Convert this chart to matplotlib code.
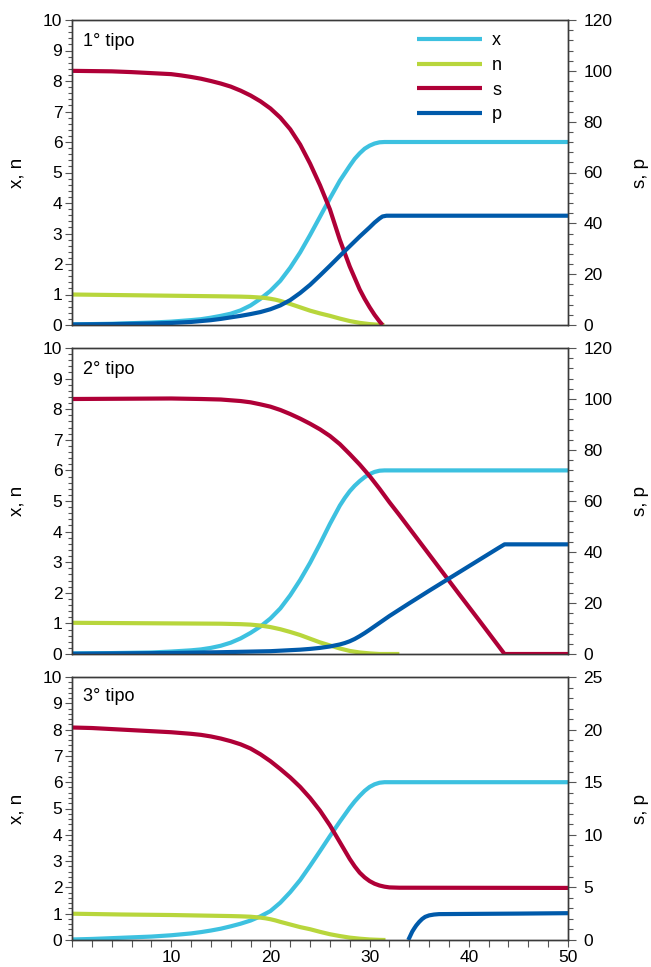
import numpy as np
import matplotlib
matplotlib.use("Agg")
import matplotlib.pyplot as plt
from matplotlib.ticker import MultipleLocator, FixedLocator

plt.rcParams["font.family"] = ["Liberation Sans", "DejaVu Sans"]

# ── colours ──────────────────────────────────────────────────────────────
C_X = "#3DC1E0"
C_N = "#B8D63C"
C_S = "#AF0037"
C_P = "#005AAA"
FRAME = "#3a3a3a"

# ── panel 1 (1° tipo) : x, n on left axis, s, p on right axis (0-120) ───
t1_x = [0, 2, 4, 6, 8, 10, 12, 13, 14, 15, 16, 17, 18, 19, 20, 21, 22, 23,
        24, 25, 26, 27, 28, 28.5, 29, 29.5, 30, 30.5, 31, 31.5, 50]
x1 = [0.02, 0.03, 0.04, 0.06, 0.08, 0.11, 0.16, 0.19, 0.24, 0.3, 0.37, 0.48,
      0.64, 0.86, 1.12, 1.45, 1.88, 2.38, 2.95, 3.55, 4.15, 4.73, 5.22, 5.45,
      5.63, 5.78, 5.88, 5.95, 5.99, 6.0, 6.0]
t1_n = [0, 5, 10, 15, 17, 18, 19, 19.5, 20, 20.5, 21, 22, 23, 24, 25, 26, 27,
        28, 29, 30, 31, 31.5]
n1 = [1.0, 0.98, 0.96, 0.94, 0.93, 0.92, 0.9, 0.885, 0.86, 0.83, 0.79, 0.69,
      0.58, 0.47, 0.38, 0.3, 0.21, 0.13, 0.07, 0.03, 0.005, 0.0]
t1_s = [0, 2, 4, 6, 8, 10, 11, 12, 13, 14, 15, 16, 17, 18, 19, 20, 21, 22,
        23, 24, 25, 26, 27, 28, 29, 29.5, 30, 30.5, 31, 31.3]
s1 = [100, 99.9, 99.8, 99.5, 99.1, 98.7, 98.2, 97.6, 96.9, 96.0, 95.0, 93.8,
      92.2, 90.3, 88.0, 85.2, 81.6, 77.0, 71.0, 63.5, 55.0, 45.5, 33.5, 23.0,
      14.0, 10.3, 7.0, 4.0, 1.4, 0]
t1_p = [0, 4, 8, 10, 12, 14, 15, 16, 17, 18, 19, 20, 21, 22, 23, 24, 25, 26,
        27, 28, 29, 30, 30.5, 31, 31.3, 31.7, 50]
p1 = [0.2, 0.35, 0.6, 0.8, 1.2, 1.9, 2.4, 3.0, 3.6, 4.3, 5.1, 6.2, 7.7, 9.8,
      12.6, 15.8, 19.5, 23.3, 27.2, 31.0, 34.8, 38.4, 40.3, 41.9, 42.7, 43, 43]

# ── panel 2 (2° tipo) ────────────────────────────────────────────────────
t2_x = [0, 4, 8, 10, 12, 13, 14, 15, 16, 17, 18, 19, 20, 21, 22, 23, 24, 25,
        26, 27, 27.5, 28, 28.5, 29, 29.5, 30, 30.5, 31, 31.5, 50]
x2 = [0.02, 0.03, 0.05, 0.08, 0.12, 0.15, 0.2, 0.27, 0.37, 0.51, 0.69, 0.9,
      1.16, 1.49, 1.92, 2.42, 2.98, 3.6, 4.25, 4.85, 5.1, 5.32, 5.5, 5.65,
      5.78, 5.88, 5.95, 5.99, 6.0, 6.0]
t2_n = [0, 5, 10, 15, 17, 18, 19, 20, 21, 22, 23, 24, 25, 26, 27, 28, 29, 30,
        31, 33]
n2 = [1.02, 1.01, 1.0, 0.99, 0.975, 0.96, 0.93, 0.88, 0.81, 0.72, 0.62, 0.5,
      0.38, 0.28, 0.18, 0.1, 0.05, 0.02, 0.0, 0.0]
t2_s = [0, 5, 10, 13, 15, 17, 18, 19, 20, 21, 22, 23, 24, 25, 26, 27, 28, 29,
        30, 31, 32, 33, 35, 37, 39, 41, 43, 43.6, 50]
s2 = [100, 100.1, 100.2, 100.0, 99.8, 99.2, 98.7, 97.9, 97.0, 95.7, 94.1,
      92.3, 90.3, 88.1, 85.5, 82.3, 78.4, 74.3, 69.8, 64.8, 59.5, 54.5, 44.2,
      33.9, 23.6, 13.4, 3.1, 0, 0]
t2_p = [0, 5, 10, 15, 20, 22, 23, 24, 25, 26, 27, 27.5, 28, 28.5, 29, 29.5,
        30, 31, 32, 34, 36, 38, 40, 42, 43, 43.6, 50]
p2 = [0.1, 0.25, 0.4, 0.7, 1.1, 1.5, 1.7, 2.0, 2.4, 2.95, 3.75, 4.3, 5.0, 5.9,
      7.0, 8.2, 9.5, 12.2, 14.9, 19.9, 24.8, 29.6, 34.4, 39.2, 41.6, 43, 43]

# ── panel 3 (3° tipo) : right axis 0-25 ─────────────────────────────────
t3_x = [0, 2, 4, 6, 8, 10, 12, 13, 14, 15, 16, 17, 18, 19, 20, 21, 22, 23,
        24, 25, 26, 27, 28, 28.5, 29, 29.5, 30, 30.5, 31, 31.5, 50]
x3 = [0.02, 0.04, 0.07, 0.1, 0.13, 0.18, 0.25, 0.3, 0.36, 0.43, 0.52, 0.62,
      0.74, 0.9, 1.1, 1.42, 1.82, 2.28, 2.82, 3.38, 3.95, 4.5, 5.03, 5.27,
      5.48, 5.67, 5.82, 5.92, 5.98, 6.0, 6.0]
t3_n = [0, 5, 10, 13, 16, 17, 18, 19, 19.5, 20, 20.5, 21, 22, 23, 24, 25, 26,
        27, 28, 29, 30, 31, 31.6]
n3 = [1.0, 0.97, 0.95, 0.93, 0.91, 0.9, 0.885, 0.85, 0.825, 0.79, 0.745, 0.69,
      0.59, 0.49, 0.41, 0.31, 0.22, 0.15, 0.09, 0.05, 0.02, 0.005, 0.0]
t3_s = [0, 2, 4, 6, 8, 10, 12, 13, 14, 15, 16, 17, 18, 19, 20, 21, 22, 23, 24,
        25, 26, 27, 28, 28.5, 29, 29.5, 30, 30.5, 31, 31.5, 32, 33, 50]
s3 = [20.2, 20.15, 20.05, 19.95, 19.85, 19.75, 19.6, 19.5, 19.35, 19.15,
      18.9, 18.6, 18.2, 17.65, 17.0, 16.25, 15.45, 14.55, 13.5, 12.3, 10.9,
      9.3, 7.7, 7.0, 6.4, 5.95, 5.6, 5.35, 5.18, 5.07, 5.0, 4.97, 4.95]
t3_p = [33.9, 34.1, 34.3, 34.5, 34.7, 35, 35.3, 35.6, 36, 36.5, 37, 40, 45, 50]
p3 = [0, 0.4, 0.8, 1.1, 1.38, 1.72, 2.0, 2.2, 2.34, 2.42, 2.46, 2.48, 2.51,
      2.55]

PANELS = [
    ("1° tipo", (t1_x, x1), (t1_n, n1), (t1_s, s1), (t1_p, p1), 120, 20, 4),
    ("2° tipo", (t2_x, x2), (t2_n, n2), (t2_s, s2), (t2_p, p2), 120, 20, 4),
    ("3° tipo", (t3_x, x3), (t3_n, n3), (t3_s, s3), (t3_p, p3), 25, 5, 1),
]

# axes boxes in figure fraction [left, bottom, width, height]
W, H = 651, 967
BOXES = [
    [72 / W, 1 - 325 / H, 496 / W, 305 / H],
    [72 / W, 1 - 654 / H, 496 / W, 306 / H],
    [72 / W, 1 - 940 / H, 496 / W, 263 / H],
]
LW = 3.0
FS = 12.5
FS_LAB = 13.5


def style_axis(ax):
    for sp in ax.spines.values():
        sp.set_color(FRAME)
        sp.set_linewidth(1.0)


fig = plt.figure(figsize=(W / 100, H / 100), dpi=100)

for i, (title, xs, ns, ss, ps, rmax, rmaj, rmin) in enumerate(PANELS):
    ax = fig.add_axes(BOXES[i])
    ax2 = ax.twinx()
    style_axis(ax)
    style_axis(ax2)

    kw = dict(lw=LW, solid_capstyle="butt", solid_joinstyle="round")
    lx, = ax.plot(xs[0], xs[1], color=C_X, label="x", **kw)
    ln, = ax.plot(ns[0], ns[1], color=C_N, label="n", **kw)
    ls, = ax2.plot(ss[0], ss[1], color=C_S, label="s", **kw)
    lp, = ax2.plot(ps[0], ps[1], color=C_P, label="p", **kw)

    ax.set_xlim(0, 50)
    ax.set_ylim(0, 10)
    ax2.set_ylim(0, rmax)

    # left axis
    ax.yaxis.set_major_locator(MultipleLocator(1))
    ax.yaxis.set_minor_locator(MultipleLocator(0.2))
    ax.tick_params(axis="y", which="major", direction="out", length=5,
                   width=0.8, color="#555555", labelsize=FS, pad=2)
    ax.tick_params(axis="y", which="minor", direction="out", length=3,
                   width=0.8, color="#555555")
    ax.set_ylabel("x, n", fontsize=FS_LAB)
    ax.yaxis.set_label_coords(-0.094, 0.5)

    # right axis
    ax2.yaxis.set_major_locator(MultipleLocator(rmaj))
    ax2.yaxis.set_minor_locator(MultipleLocator(rmin))
    ax2.tick_params(axis="y", which="major", direction="out", length=6,
                    width=0.8, color="#555555", labelsize=FS, pad=5)
    ax2.tick_params(axis="y", which="minor", direction="out", length=3.5,
                    width=0.8, color="#555555")
    ax2.set_ylabel("s, p", fontsize=FS_LAB, rotation=90)
    ax2.yaxis.set_label_coords(1.13, 0.5)

    # x axis: ticks only on the last panel
    if i == len(PANELS) - 1:
        ax.xaxis.set_major_locator(FixedLocator([10, 20, 30, 40, 50]))
        ax.xaxis.set_minor_locator(MultipleLocator(2))
        ax.tick_params(axis="x", which="both", direction="out", length=5,
                       width=0.8, color="#555555", labelsize=FS, pad=2)
    else:
        ax.tick_params(axis="x", which="both", bottom=False, labelbottom=False)
    ax2.tick_params(axis="x", which="both", bottom=False, labelbottom=False)

    ax.text(0.022, 0.957, title, transform=ax.transAxes, fontsize=13,
            va="top", ha="left")

    if i == 0:
        ax2.legend(handles=[lx, ln, ls, lp], loc="upper left",
                   bbox_to_anchor=(0.685, 0.977), frameon=False, fontsize=13,
                   handlelength=3.6, handletextpad=0.55, labelspacing=0.42,
                   borderaxespad=0.0, borderpad=0.3)

fig.savefig("out.png", dpi=100)
